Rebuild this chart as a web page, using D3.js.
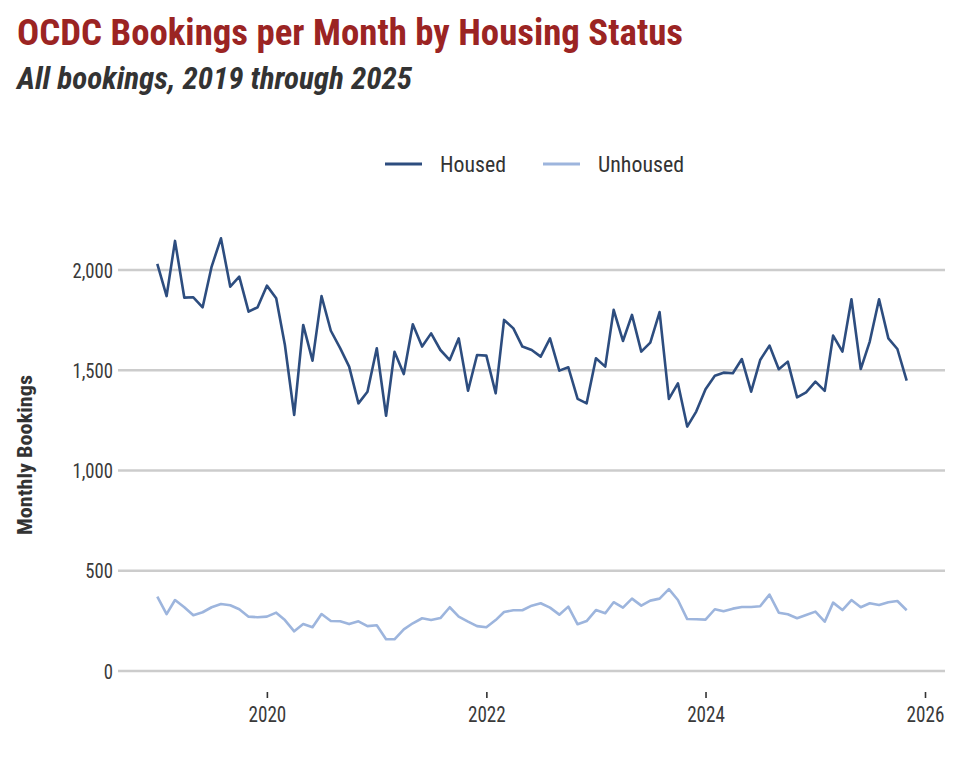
<!DOCTYPE html>
<html>
<head>
<meta charset="utf-8">
<script src="https://cdn.jsdelivr.net/npm/d3@7"></script>
<style>
  html, body { margin: 0; padding: 0; background: #fff; }
  svg text { font-family: "Roboto Condensed", Roboto, "Noto Sans", sans-serif; }
</style>
</head>
<body>
<svg id="chart" width="960" height="768"></svg>
<script>
// ── Data ──────────────────────────────────────────────────────────────────────
// Monthly values, Jan 2019 through Nov 2025
const startMonth = "2019-01";
const housed = [
  2030, 1870, 2145, 1862, 1864, 1814, 2017, 2158, 1917, 1967, 1792, 1814, // 2019
  1922, 1859, 1626, 1277, 1726, 1548, 1870, 1697, 1610, 1518, 1335, 1393, // 2020
  1610, 1273, 1592, 1481, 1729, 1618, 1684, 1601, 1551, 1659, 1398, 1576, // 2021
  1573, 1385, 1751, 1709, 1618, 1601, 1568, 1659, 1498, 1515, 1357, 1335, // 2022
  1560, 1518, 1801, 1646, 1776, 1593, 1638, 1790, 1357, 1435, 1219, 1294, // 2023
  1405, 1473, 1488, 1485, 1556, 1393, 1551, 1623, 1505, 1543, 1365, 1390, // 2024
  1443, 1397, 1673, 1593, 1854, 1506, 1643, 1854, 1659, 1606, 1448        // 2025
];
const unhoused = [
  371, 284, 354, 318, 278, 293, 318, 334, 328, 308, 271, 268,
  271, 291, 254, 198, 234, 218, 284, 249, 248, 234, 248, 224,
  228, 158, 158, 208, 238, 263, 254, 264, 318, 271, 246, 224,
  218, 254, 294, 303, 303, 326, 338, 316, 281, 321, 233, 249,
  304, 288, 343, 316, 361, 326, 351, 361, 408, 354, 259, 258,
  256, 308, 298, 311, 319, 319, 323, 381, 291, 283, 263, 279,
  296, 246, 341, 304, 354, 318, 338, 329, 343, 349, 303
];
const seriesNames  = ["Housed", "Unhoused"];
const seriesColors = ["#2d4d7f", "#9db5dd"];
const yTicks = [0, 500, 1000, 1500, 2000];
const xTickYears = [2020, 2022, 2024, 2026];

const parseMonth = d3.timeParse("%Y-%m");
const t0 = parseMonth(startMonth);
const months = housed.map((_, i) => d3.timeMonth.offset(t0, i));
const series = [housed, unhoused].map((vals, k) => ({
  name: seriesNames[k],
  color: seriesColors[k],
  values: vals.map((v, i) => ({ date: months[i], value: v }))
}));

// No condensed face installed: squeeze Roboto horizontally instead
function condense(sel, f) {
  sel.each(function() {
    const w = this.getComputedTextLength();
    d3.select(this).attr("textLength", w * f).attr("lengthAdjust", "spacingAndGlyphs");
  });
}

// ── Layout ────────────────────────────────────────────────────────────────────
const svg = d3.select("#chart");
const plotLeft = 118, plotRight = 945;

const x = d3.scaleTime()
  .domain([new Date(2019, 0, 1), new Date(2026, 0, 1)])
  .range([157.3, 925]);
const y = d3.scaleLinear()
  .domain([0, 2000])
  .range([671, 270]);

// ── Titles ────────────────────────────────────────────────────────────────────
svg.append("text")
  .attr("x", 17).attr("y", 45)
  .attr("fill", "#9b2423")
  .attr("font-size", 36).attr("font-weight", 700)
  .attr("textLength", 666).attr("lengthAdjust", "spacingAndGlyphs")
  .text("OCDC Bookings per Month by Housing Status");

svg.append("text")
  .attr("x", 17).attr("y", 89)
  .attr("fill", "#333")
  .attr("font-size", 31).attr("font-weight", 700).attr("font-style", "italic")
  .attr("textLength", 395).attr("lengthAdjust", "spacingAndGlyphs")
  .text("All bookings, 2019 through 2025");

// ── Legend ────────────────────────────────────────────────────────────────────
const legendPos = [{ x: 385 }, { x: 543 }];
const legend = svg.append("g").selectAll("g").data(series).join("g")
  .attr("transform", (d, i) => `translate(${legendPos[i].x},164)`);
legend.append("line")
  .attr("x1", 0).attr("x2", 37)
  .attr("stroke", d => d.color).attr("stroke-width", 3);
legend.append("text")
  .attr("x", 55).attr("y", 8)
  .attr("fill", "#333").attr("font-size", 22)
  .attr("textLength", (d, i) => i === 0 ? 66 : 86)
  .attr("lengthAdjust", "spacingAndGlyphs")
  .text(d => d.name);

// ── Grid + y axis ─────────────────────────────────────────────────────────────
const grid = svg.append("g");
grid.selectAll("line").data(yTicks).join("line")
  .attr("x1", plotLeft).attr("x2", plotRight)
  .attr("y1", d => y(d)).attr("y2", d => y(d))
  .attr("stroke", "#cccccc").attr("stroke-width", 2.5);

svg.append("g").selectAll("text").data(yTicks).join("text")
  .attr("x", 113).attr("y", d => y(d) + 7.5)
  .attr("text-anchor", "end")
  .attr("fill", "#3a3a3a").attr("font-size", 21)
  .text(d => d3.format(",")(d))
  .call(condense, 0.89);

svg.append("text")
  .attr("transform", "translate(32,455) rotate(-90)")
  .attr("text-anchor", "middle")
  .attr("fill", "#333").attr("font-size", 21).attr("font-weight", 700)
  .attr("textLength", 160).attr("lengthAdjust", "spacingAndGlyphs")
  .text("Monthly Bookings");

// ── X axis ────────────────────────────────────────────────────────────────────
const xAxis = svg.append("g")
  .attr("transform", "translate(0,692)")
  .call(d3.axisBottom(x)
    .tickValues(xTickYears.map(yr => new Date(yr, 0, 1)))
    .tickFormat(d3.timeFormat("%Y"))
    .tickSize(6).tickPadding(8));
xAxis.select(".domain").remove();
xAxis.selectAll(".tick line").attr("stroke", "#333").attr("stroke-width", 1.6);
xAxis.selectAll(".tick text")
  .attr("fill", "#3a3a3a").attr("font-size", 22)
  .attr("font-family", "\"Roboto Condensed\", Roboto, sans-serif")
  .call(condense, 0.87);

// ── Lines ─────────────────────────────────────────────────────────────────────
const line = d3.line()
  .x(d => x(d.date))
  .y(d => y(d.value));

svg.append("g").selectAll("path").data(series.slice().reverse()).join("path")
  .attr("fill", "none")
  .attr("stroke", d => d.color)
  .attr("stroke-width", 2.6)
  .attr("stroke-linejoin", "round")
  .attr("d", d => line(d.values));
</script>
</body>
</html>
